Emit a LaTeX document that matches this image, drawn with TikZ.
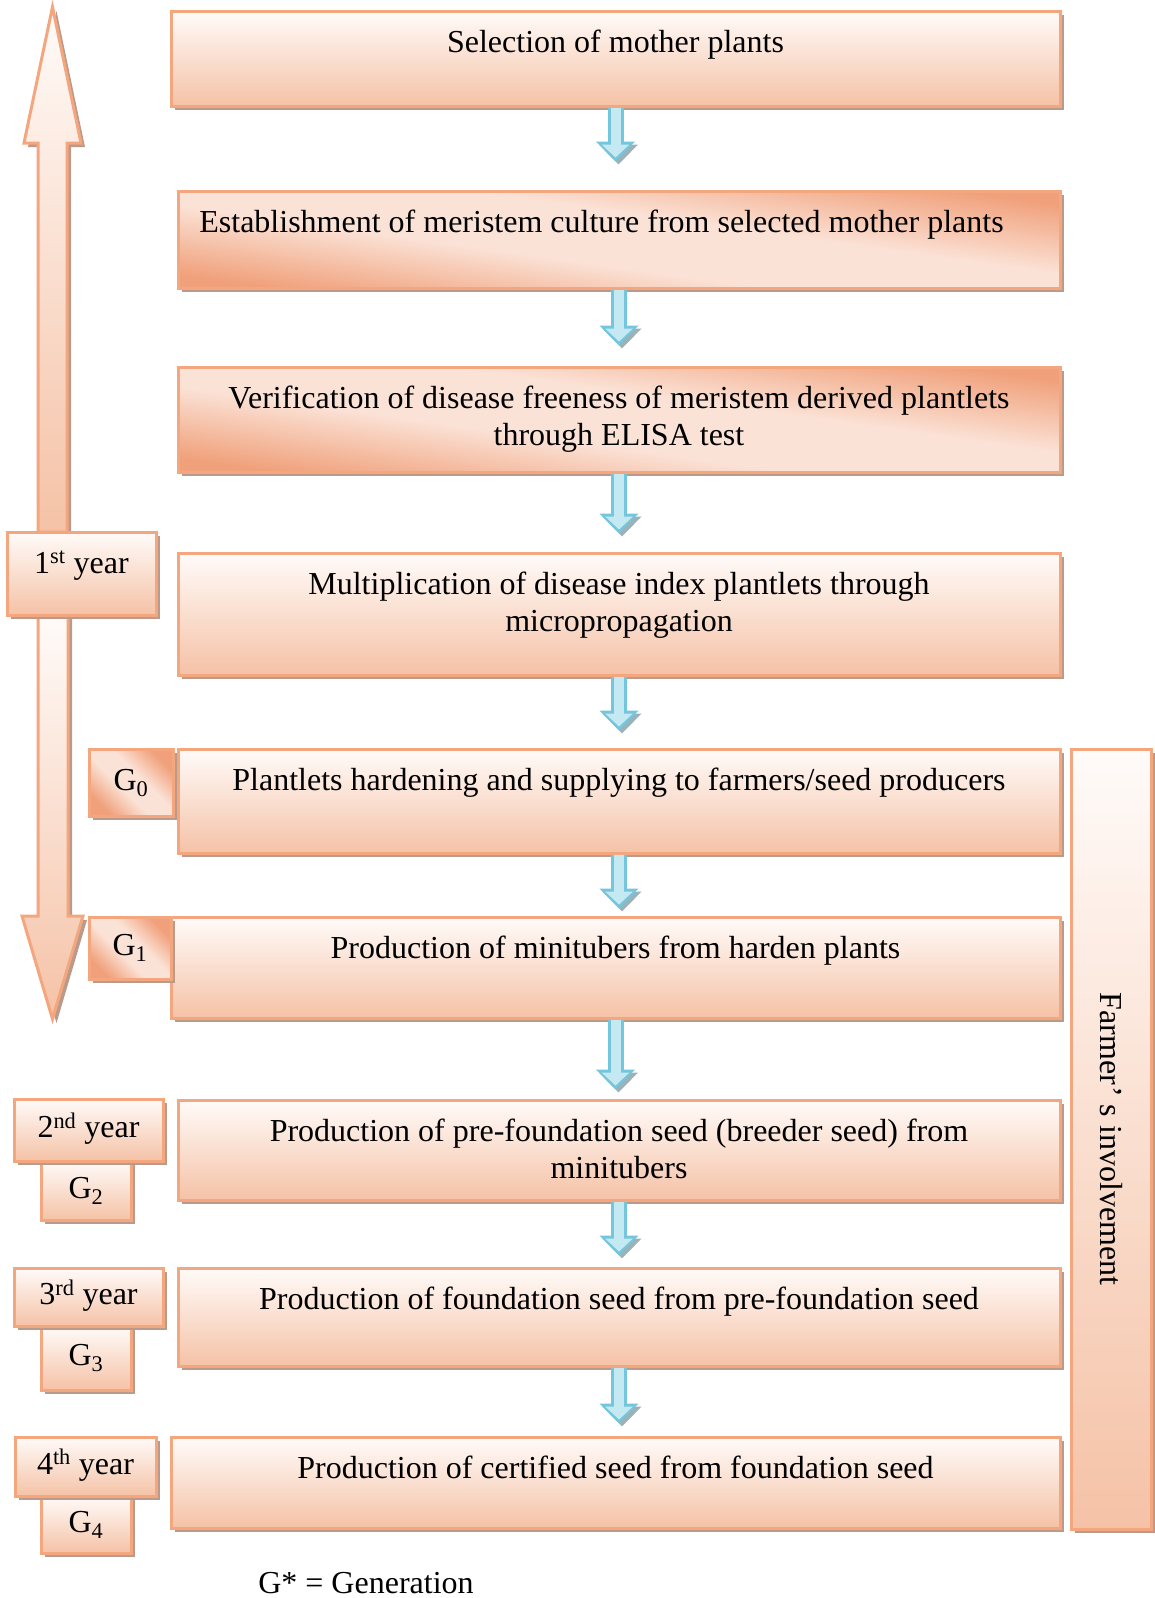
\documentclass[tikz,border=0pt]{standalone}
\usepackage{fontspec}
\setmainfont{Liberation Serif}
\usetikzlibrary{shadows, arrows.meta, calc, positioning}

\definecolor{edgeorange}{HTML}{F4A67E}
\definecolor{toplight}{HTML}{FFFBF9}
\definecolor{bottomsalmon}{HTML}{F5C2A6}
\definecolor{darksalmon}{HTML}{F0A07A}
\definecolor{midpeach}{HTML}{FBE2D6}
\definecolor{shadowbrown}{HTML}{BA9A8A}
\definecolor{arrowedge}{HTML}{74C6DC}
\definecolor{arrowfill}{HTML}{C4E9F3}
\definecolor{arrowshade}{HTML}{9DB2B8}

\pgfdeclareverticalshading{diagglow}{100bp}{color(0bp)=(darksalmon); color(25bp)=(darksalmon);
  color(43bp)=(midpeach); color(57bp)=(midpeach); color(75bp)=(darksalmon); color(100bp)=(darksalmon)}

\tikzset{
  shadowed/.style={drop shadow={shadow xshift=4pt, shadow yshift=-4pt, fill=shadowbrown, opacity=1}},
  mainbox/.style={rectangle, draw=edgeorange, line width=3pt, top color=toplight, bottom color=bottomsalmon,
    shadowed, minimum width=882pt, align=center, inner ysep=19pt, text height=22pt},
  twolines/.style={text height=59pt},
  diagbox/.style={mainbox, shading=diagglow, shading angle=172},
  yearbox/.style={rectangle, draw=edgeorange, line width=3pt, top color=toplight, bottom color=bottomsalmon,
    shadowed, inner sep=0pt, text height=22pt, text depth=7pt},
  genbox/.style={yearbox, shading=diagglow, shading angle=135},
  farmerbar/.style={rectangle, draw=edgeorange, line width=3pt, top color=toplight, bottom color=bottomsalmon,
    shadowed, inner sep=0pt},
  bigarrow/.style={draw=edgeorange, line width=3pt, line join=miter, top color=toplight, bottom color=bottomsalmon, shadowed},
  flow/.style={line width=16pt, draw=arrowedge, -{Triangle[length=20pt,width=38pt]},
    preaction={draw=arrowshade, transform canvas={shift={(3pt,-3pt)}}},
    postaction={draw=arrowfill, line width=10pt, -{Triangle[length=13pt,width=27pt]}, shorten >=4pt}}
}

\begin{document}
\begin{tikzpicture}[x=1pt, y=-1pt, font=\fontsize{32}{37}\selectfont]
    \useasboundingbox (0 , 0) rectangle (1154 , 1598);

    % year arrows
    \draw[bigarrow] (38 , 532) -- (38 , 143) -- (24 , 143) -- (52.5 , 7) -- (81 , 143) -- (67 , 143) -- (67 , 532) -- cycle;
    \draw[bigarrow] (38 , 615) -- (38 , 916) -- (22 , 916) -- (52.5 , 1019) -- (83 , 916) -- (68 , 916) -- (68 , 615) -- cycle;

    \node [mainbox, minimum width=889pt, text depth=35pt] (b1) at (615.5 , 58.5) {Selection of mother plants};
    \node [diagbox, text depth=37pt] (b2) at (619 , 239.5) {Establishment of meristem culture from selected mother plants\hspace*{35pt}};
    \node [diagbox, twolines, text depth=8pt] (b3) at (619 , 419.5) {Verification of disease freeness of meristem derived plantlets\\through ELISA test};
    \node [mainbox, twolines, text depth=25pt] (b4) at (619 , 614) {Multiplication of disease index plantlets through\\micropropagation};
    \node [mainbox, text depth=44pt] (b5) at (619 , 801) {Plantlets hardening and supplying to farmers/seed producers};
    \node [mainbox, minimum width=889pt, text depth=41pt] (b6) at (615.5 , 967.5) {Production of minitubers from harden plants};
    \node [mainbox, twolines, text depth=3pt] (b7) at (619 , 1150) {Production of pre-foundation seed (breeder seed) from\\minitubers};
    \node [mainbox, text depth=38pt] (b8) at (619 , 1317) {Production of foundation seed from pre-foundation seed};
    \node [mainbox, minimum width=889pt, text depth=31pt] (b9) at (615.5 , 1482.5) {Production of certified seed from foundation seed};

    \node [yearbox, minimum width=149pt, inner ysep=19pt, text depth=23pt] (y1) at (81.5 , 573.5) {1\textsuperscript{st} year};
    \node [genbox, minimum width=84pt, minimum height=67pt] (g0) at (131 , 782.5) {G\textsubscript{0}};
    \node [genbox, minimum width=82pt, minimum height=62pt] (g1) at (130 , 948) {G\textsubscript{1}};

    \node [yearbox, minimum width=90pt, minimum height=59pt] (g2) at (86 , 1190.5) {G\textsubscript{2}};
    \node [yearbox, minimum width=149pt, minimum height=62pt] (y2) at (88.5 , 1130) {2\textsuperscript{nd} year};
    \node [yearbox, minimum width=90pt, minimum height=64pt] (g3) at (86 , 1358) {G\textsubscript{3}};
    \node [yearbox, minimum width=149pt, minimum height=58pt] (y3) at (88.5 , 1297) {3\textsuperscript{rd} year};
    \node [yearbox, minimum width=90pt, minimum height=57pt] (g4) at (86 , 1524.5) {G\textsubscript{4}};
    \node [yearbox, minimum width=141pt, minimum height=59pt] (y4) at (85.5 , 1466.5) {4\textsuperscript{th} year};

    \node [farmerbar, minimum width=80pt, minimum height=780pt] (farmer) at (1111 , 1139) {\rotatebox{-90}{Farmer’ s involvement}};

    \node [anchor=base] (key) at (366 , 1593) {G* = Generation};

    \draw[flow] (b1.south) -- ($(b1.south |- b2.north) + (0 , -28)$);
    \draw[flow] (b2.south) -- ($(b2.south |- b3.north) + (0 , -20)$);
    \draw[flow] (b3.south) -- ($(b3.south |- b4.north) + (0 , -18)$);
    \draw[flow] (b4.south) -- ($(b4.south |- b5.north) + (0 , -17)$);
    \draw[flow] (b5.south) -- ($(b5.south |- b6.north) + (0 , -7)$);
    \draw[flow] (b6.south) -- ($(b6.south |- b7.north) + (0 , -9)$);
    \draw[flow] (b7.south) -- ($(b7.south |- b8.north) + (0 , -11)$);
    \draw[flow] (b8.south) -- ($(b8.south |- b9.north) + (0 , -12)$);
\end{tikzpicture}
\end{document}
